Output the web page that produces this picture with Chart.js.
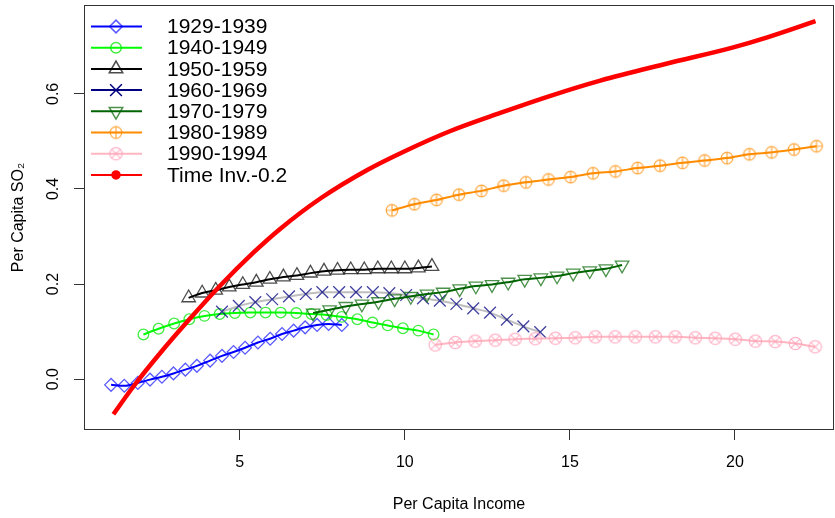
<!DOCTYPE html>
<html><head><meta charset="utf-8">
<script src="https://cdn.jsdelivr.net/npm/chart.js@4.4.1/dist/chart.umd.min.js"></script>
<style>html,body{margin:0;padding:0;background:#fff;overflow:hidden}</style>
</head><body>
<canvas id="c" width="835" height="518"></canvas>
<script>
// ---------- data ----------
const xTicks = [5, 10, 15, 20];
const yTicks = [0.0, 0.2, 0.4, 0.6];
const seriesNames = ['1929-1939','1940-1949','1950-1959','1960-1969','1970-1979','1980-1989','1990-1994','Time Inv.-0.2'];

const x1929 = [1.10,1.50,1.91,2.28,2.64,2.99,3.35,3.70,4.10,4.46,4.81,5.16,5.55,5.92,6.28,6.63,6.98,7.34,7.69,8.09];
const y1929 = [-0.012,-0.014,-0.008,-0.001,0.005,0.012,0.020,0.028,0.039,0.049,0.057,0.066,0.077,0.085,0.095,0.102,0.109,0.114,0.116,0.114];

const x1940 = [2.08,2.54,3.01,3.47,3.93,4.39,4.85,5.32,5.78,6.24,6.71,7.17,7.63,8.09,8.56,9.02,9.48,9.94,10.41,10.87];
const y1940 = [0.094,0.106,0.117,0.126,0.133,0.137,0.139,0.140,0.140,0.140,0.139,0.137,0.135,0.131,0.126,0.119,0.113,0.107,0.102,0.094];

const x1950 = [3.45,3.86,4.27,4.68,5.09,5.50,5.91,6.32,6.73,7.14,7.55,7.96,8.36,8.77,9.18,9.59,10.00,10.41,10.82];
const y1950 = [0.171,0.181,0.187,0.194,0.199,0.204,0.210,0.215,0.218,0.223,0.227,0.229,0.230,0.230,0.232,0.232,0.232,0.234,0.237];

const x1960 = [4.46,4.97,5.47,5.98,6.49,7.00,7.50,8.01,8.52,9.03,9.53,10.04,10.55,11.06,11.56,12.07,12.58,13.09,13.59,14.10];
const y1960 = [0.142,0.154,0.162,0.168,0.174,0.179,0.183,0.183,0.183,0.183,0.181,0.177,0.170,0.165,0.158,0.149,0.140,0.125,0.111,0.099];

const x1970 = [7.22,7.72,8.21,8.70,9.20,9.69,10.18,10.67,11.16,11.66,12.15,12.64,13.13,13.63,14.12,14.61,15.10,15.60,16.09,16.58];
const y1970 = [0.139,0.146,0.153,0.158,0.163,0.169,0.174,0.179,0.183,0.190,0.196,0.199,0.204,0.210,0.213,0.217,0.223,0.228,0.232,0.240];

const x1980 = [9.61,10.29,10.96,11.64,12.32,12.99,13.67,14.35,15.02,15.70,16.38,17.05,17.73,18.41,19.08,19.76,20.44,21.11,21.79,22.47];
const y1980 = [0.355,0.368,0.377,0.388,0.396,0.407,0.414,0.420,0.425,0.433,0.437,0.444,0.449,0.455,0.460,0.465,0.473,0.477,0.483,0.490];

const x1990 = [10.92,11.53,12.13,12.74,13.34,13.95,14.56,15.16,15.77,16.37,16.98,17.59,18.19,18.80,19.40,20.01,20.62,21.22,21.83,22.43];
const y1990 = [0.072,0.077,0.080,0.082,0.084,0.085,0.086,0.087,0.089,0.089,0.089,0.089,0.089,0.087,0.086,0.084,0.080,0.079,0.075,0.068];

const xTimeInv = [1.17,1.77,2.59,3.50,4.41,5.41,6.22,7.44,8.86,9.98,11.38,12.89,14.41,15.92,17.95,19.95,20.98,22.44];
const yTimeInv = [-0.074,-0.016,0.055,0.128,0.197,0.266,0.316,0.380,0.440,0.479,0.522,0.560,0.596,0.628,0.664,0.698,0.719,0.753];

// ---------- styling helpers ----------
const FONT = '"Liberation Sans", Arial, Helvetica, sans-serif';

function makeMarker(kind, color, r) {
  const s = Math.ceil(r * 2 + 4);
  const cv = document.createElement('canvas');
  cv.width = s; cv.height = s;
  const g = cv.getContext('2d');
  const c = s / 2;
  g.strokeStyle = color; g.lineWidth = 1.2;
  g.beginPath(); g.arc(c, c, r, 0, Math.PI * 2); g.stroke();
  g.beginPath();
  if (kind === 'plus') {
    g.moveTo(c - r, c); g.lineTo(c + r, c);
    g.moveTo(c, c - r); g.lineTo(c, c + r);
  } else {
    const d = r * Math.SQRT1_2;
    g.moveTo(c - d, c - d); g.lineTo(c + d, c + d);
    g.moveTo(c + d, c - d); g.lineTo(c - d, c + d);
  }
  g.stroke();
  return cv;
}
const orangeMarker = makeMarker('plus', 'rgba(255,140,0,0.75)', 5.8);
const pinkMarker = makeMarker('x', 'rgba(255,160,185,0.8)', 6.2);

const styles = [
  {line:'#0000FF', legendLine:'#0000FF', mk:'rgba(0,0,255,0.65)', ps:'rectRot', r:6.4, rot:0},
  {line:'#00FF00', legendLine:'#00FF00', mk:'rgba(0,230,0,0.75)', ps:'circle', r:5.3, rot:0},
  {line:'#000000', legendLine:'#000000', mk:'rgba(0,0,0,0.7)', ps:'triangle', r:7.8, rot:0},
  {line:'#BEBEBE', legendLine:'#000080', mk:'rgba(0,0,128,0.75)', ps:'crossRot', r:8.3, rot:0},
  {line:'#006400', legendLine:'#006400', mk:'rgba(0,100,0,0.7)', ps:'triangle', r:7.8, rot:180},
  {line:'#FF8C00', legendLine:'#FF8C00', mk:'rgba(255,140,0,0.75)', ps:orangeMarker, r:6, rot:0},
  {line:'#FFB6C1', legendLine:'#FFB6C1', mk:'rgba(255,160,185,0.8)', ps:pinkMarker, r:6, rot:0},
  {line:'#FF0000', legendLine:'#FF0000', mk:'#FF0000', ps:'circle', r:4, rot:0}
];

const xs = [x1929, x1940, x1950, x1960, x1970, x1980, x1990, xTimeInv];
const ys = [y1929, y1940, y1950, y1960, y1970, y1980, y1990, yTimeInv];

const datasets = seriesNames.map((name, i) => {
  const st = styles[i];
  const isRed = i === 7;
  return {
    label: name,
    data: xs[i].map((x, k) => ({x: x, y: ys[i][k]})),
    borderColor: st.line,
    borderWidth: isRed ? 4.5 : 2,
    cubicInterpolationMode: 'monotone',
    pointStyle: st.ps,
    pointRadius: isRed ? 0 : st.r,
    pointRotation: st.rot,
    pointBorderColor: st.mk,
    pointBackgroundColor: 'rgba(0,0,0,0)',
    pointBorderWidth: 1.3,
    order: isRed ? 0 : 8 - i,
    fill: false
  };
});

// ---------- custom plugin: box, rotated y labels, legend ----------
const rDecor = {
  id: 'rDecor',
  afterDraw(chart) {
    const ctx = chart.ctx;
    const a = chart.chartArea;
    ctx.save();
    ctx.strokeStyle = '#333'; ctx.lineWidth = 1;
    ctx.strokeRect(Math.round(a.left) + 0.5, Math.round(a.top) + 0.5,
                   Math.round(a.right - a.left) - 1, Math.round(a.bottom - a.top) - 1);
    // rotated y tick labels
    const yS = chart.scales.y;
    ctx.fillStyle = '#000'; ctx.font = '16px ' + FONT;
    ctx.textAlign = 'center'; ctx.textBaseline = 'middle';
    yTicks.forEach(v => {
      const py = yS.getPixelForValue(v);
      ctx.save(); ctx.translate(54, py); ctx.rotate(-Math.PI / 2);
      ctx.fillText(v.toFixed(1), 0, 0); ctx.restore();
    });
    // legend
    const y0 = 26.5, dy = 21.2;
    seriesNames.forEach((name, i) => {
      const st = styles[i];
      const y = y0 + i * dy;
      ctx.strokeStyle = st.legendLine; ctx.lineWidth = 2;
      ctx.beginPath(); ctx.moveTo(91, y); ctx.lineTo(142, y); ctx.stroke();
      ctx.strokeStyle = (i === 3) ? '#000080' : st.mk;
      ctx.fillStyle = (i === 7) ? '#FF0000' : 'rgba(0,0,0,0)';
      ctx.lineWidth = 1.5;
      Chart.helpers.drawPoint(ctx, {pointStyle: st.ps, rotation: st.rot, radius: st.r, borderWidth: 1.5}, 116, y);
      ctx.fillStyle = '#000'; ctx.font = '21px ' + FONT;
      ctx.textAlign = 'left'; ctx.textBaseline = 'middle';
      ctx.fillText(name, 167, y + 1);
    });
    ctx.restore();
  }
};

new Chart(document.getElementById('c'), {
  type: 'line',
  data: {datasets: datasets},
  options: {
    responsive: false, animation: false, devicePixelRatio: 1,
    layout: {autoPadding: false, padding: {top: 5, right: 1, left: 0, bottom: 0}},
    plugins: {legend: {display: false}, tooltip: {enabled: false}},
    scales: {
      x: {
        type: 'linear', min: 0.28, max: 23.0,
        afterBuildTicks: s => { s.ticks = xTicks.map(v => ({value: v})); },
        afterFit: s => { s.height = 88; s.paddingLeft = 0; s.paddingRight = 0; },
        grid: {drawOnChartArea: false, drawTicks: true, tickLength: 10, color: '#333', lineWidth: 1},
        border: {display: false},
        ticks: {font: {size: 16, family: FONT}, color: '#000', padding: 13, maxRotation: 0, autoSkip: false,
                callback: v => String(v)},
        title: {display: true, text: 'Per Capita Income', font: {size: 16, family: FONT}, color: '#000',
                padding: {top: 0, bottom: 4}}
      },
      y: {
        type: 'linear', min: -0.107, max: 0.787,
        afterBuildTicks: s => { s.ticks = yTicks.map(v => ({value: v})); },
        afterFit: s => { s.width = 84; s.paddingTop = 0; s.paddingBottom = 0; },
        grid: {drawOnChartArea: false, drawTicks: true, tickLength: 10, color: '#333', lineWidth: 1},
        border: {display: false},
        ticks: {display: false},
        title: {display: true, text: 'Per Capita SO₂', font: {size: 16, family: FONT}, color: '#000',
                padding: {top: 9, bottom: 0}}
      }
    }
  },
  plugins: [rDecor]
});
</script>
</body></html>
